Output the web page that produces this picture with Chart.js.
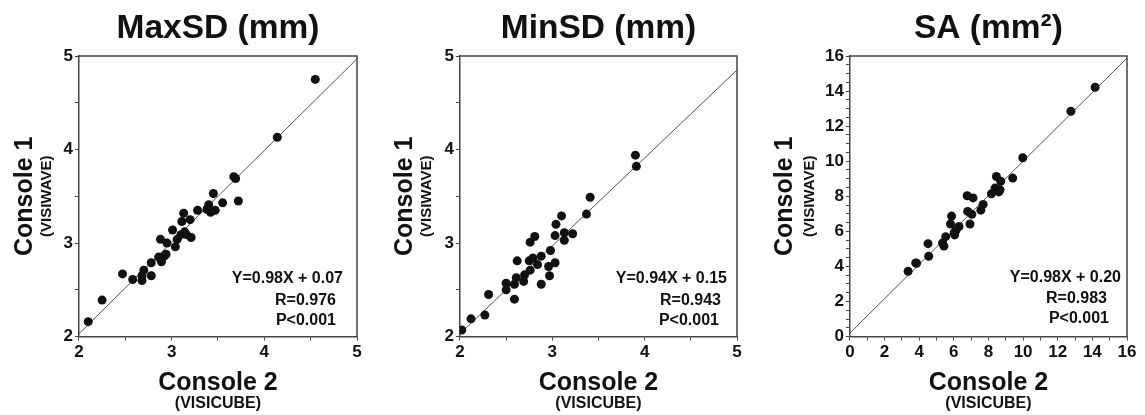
<!DOCTYPE html>
<html>
<head>
<meta charset="utf-8">
<script src="https://cdn.jsdelivr.net/npm/chart.js@4.4.1/dist/chart.umd.min.js"></script>
<style>
    body { margin: 0; background: #fff; }
    .row { display: flex; width: 1145px; height: 415px; }
    canvas { display: block; }
</style>
</head>
<body>
<div class="row">
    <canvas id="maxsd" width="380" height="415"></canvas>
    <canvas id="minsd" width="380" height="415"></canvas>
    <canvas id="sa" width="385" height="415"></canvas>
</div>
<script>
// values (Console 2 = x, Console 1 = y)
const maxsdConsole2 = [2.10, 2.25, 2.47, 2.58, 2.68, 2.68, 2.70, 2.78, 2.78, 2.86, 2.89, 2.88, 2.92, 2.94, 2.95, 3.01, 3.04, 3.06, 3.10, 3.13, 3.11, 3.14, 3.16, 3.20, 3.21, 3.28, 3.38, 3.40, 3.42, 3.45, 3.47, 3.55, 3.67, 3.69, 3.72, 4.14, 4.55];
const maxsdConsole1 = [2.16, 2.39, 2.67, 2.61, 2.60, 2.65, 2.71, 2.65, 2.79, 2.85, 2.80, 3.04, 2.86, 2.88, 3.00, 3.14, 2.96, 3.04, 3.09, 3.32, 3.23, 3.12, 3.09, 3.25, 3.06, 3.35, 3.36, 3.41, 3.33, 3.53, 3.35, 3.43, 3.71, 3.69, 3.45, 4.13, 4.75];

const minsdConsole2 = [2.02, 2.12, 2.27, 2.31, 2.50, 2.50, 2.59, 2.59, 2.61, 2.62, 2.69, 2.70, 2.75, 2.76, 2.76, 2.79, 2.81, 2.84, 2.88, 2.88, 2.96, 2.98, 2.97, 3.03, 3.03, 3.04, 3.10, 3.13, 3.13, 3.22, 3.37, 3.41, 3.90, 3.91];
const minsdConsole1 = [2.07, 2.19, 2.23, 2.45, 2.57, 2.50, 2.40, 2.56, 2.63, 2.81, 2.59, 2.66, 2.81, 2.71, 3.01, 2.84, 3.07, 2.77, 2.86, 2.56, 2.75, 2.92, 2.65, 2.79, 3.08, 3.20, 3.29, 3.11, 3.03, 3.10, 3.31, 3.49, 3.94, 3.82];

const saConsole2 = [3.36, 3.80, 3.85, 4.51, 4.55, 5.35, 5.43, 5.53, 5.81, 5.87, 6.02, 6.12, 6.30, 6.05, 6.77, 6.80, 6.93, 7.04, 7.11, 7.56, 7.69, 8.17, 8.38, 8.46, 8.67, 8.71, 8.60, 9.40, 9.98, 12.76, 14.16];
const saConsole1 = [3.72, 4.20, 4.18, 5.30, 4.58, 5.34, 5.16, 5.70, 6.42, 6.87, 5.92, 6.05, 6.28, 5.80, 8.03, 7.14, 6.42, 6.97, 7.91, 7.21, 7.53, 8.14, 8.47, 9.13, 8.37, 8.86, 8.25, 9.04, 10.20, 12.85, 14.22];

const panelTitles = ['MaxSD (mm)', 'MinSD (mm)', 'SA (mm\u00B2)'];
const fitSlopes = [0.98, 0.94, 0.98];
const fitIntercepts = [0.07, 0.15, 0.20];
const fitR = ['0.976', '0.943', '0.983'];
const fitP = ['P<0.001', 'P<0.001', 'P<0.001'];

const FONT = 'Arial, "Liberation Sans", sans-serif';
const INK = '#111';
const AXIS = '#444';

function toPoints(xs, ys) {
    return xs.map((x, i) => ({ x: x, y: ys[i] }));
}

const extrasPlugin = {
    id: 'extras',
    afterDraw(chart, args, opts) {
        const ctx = chart.ctx;
        const a = chart.chartArea;
        ctx.save();

        // top and right edges of the frame
        ctx.strokeStyle = AXIS;
        ctx.lineWidth = 1.5;
        ctx.beginPath();
        ctx.moveTo(a.left, a.top);
        ctx.lineTo(a.right, a.top);
        ctx.lineTo(a.right, a.bottom);
        ctx.stroke();

        // regression text
        ctx.fillStyle = INK;
        ctx.font = 'bold 16px ' + FONT;
        ctx.textAlign = 'right';
        ctx.textBaseline = 'middle';
        ctx.fillText(opts.eq, a.right - opts.right[0], a.bottom - opts.rows[0]);
        ctx.fillText('R=' + opts.r, a.right - opts.right[1], a.bottom - opts.rows[1]);
        ctx.fillText(opts.p, a.right - opts.right[2], a.bottom - opts.rows[2]);

        // small sub-labels under the axis titles
        ctx.textAlign = 'center';
        ctx.font = 'bold 16px ' + FONT;
        ctx.fillText('(VISICUBE)', (a.left + a.right) / 2, 404);

        ctx.translate(opts.subYX, (a.top + a.bottom) / 2);
        ctx.rotate(-Math.PI / 2);
        ctx.font = 'bold 15px ' + FONT;
        ctx.fillText('(VISIWAVE)', 0, 0);
        ctx.restore();
    }
};

function makePanel(id, idx, xs, ys, cfg) {
    const slope = fitSlopes[idx];
    const icpt = fitIntercepts[idx];
    const eq = 'Y=' + slope.toFixed(2) + 'X + ' + icpt.toFixed(2);

    const tickFont = { family: FONT, size: 17, weight: 'bold' };
    const titleFont = { family: FONT, size: 25, weight: 'bold' };

    return new Chart(document.getElementById(id), {
        type: 'scatter',
        data: {
            datasets: [
                {
                    data: toPoints(xs, ys),
                    backgroundColor: INK,
                    borderWidth: 0,
                    pointRadius: 4.5,
                    order: 0
                },
                {
                    data: [
                        { x: cfg.min, y: slope * cfg.min + icpt },
                        { x: cfg.max, y: slope * cfg.max + icpt }
                    ],
                    showLine: true,
                    borderColor: '#555',
                    borderWidth: 1,
                    pointRadius: 0,
                    order: 1
                }
            ]
        },
        options: {
            responsive: false,
            animation: false,
            layout: { padding: { left: 0, right: cfg.padRight, top: 0, bottom: 17 } },
            plugins: {
                legend: { display: false },
                tooltip: { enabled: false },
                title: {
                    display: true,
                    text: panelTitles[idx],
                    fullSize: false,
                    color: INK,
                    font: { family: FONT, size: 33.5, weight: 'bold' },
                    padding: { top: 9, bottom: 6.8 }
                },
                extras: {
                    eq: eq,
                    r: fitR[idx],
                    p: fitP[idx],
                    right: cfg.statRight,
                    rows: cfg.statRows,
                    subYX: cfg.subYX
                }
            },
            scales: {
                x: {
                    type: 'linear',
                    min: cfg.min,
                    max: cfg.max,
                    ticks: {
                        stepSize: cfg.xStep,
                        autoSkip: false,
                        maxRotation: 0,
                        padding: 2,
                        color: INK,
                        font: tickFont,
                        callback: v => (Math.abs(v % cfg.major) < 1e-9 ? v : '')
                    },
                    grid: { drawOnChartArea: false, drawTicks: true, tickLength: 4, tickColor: AXIS, tickWidth: 1 },
                    border: { display: true, color: AXIS, width: 1.5 },
                    title: {
                        display: true,
                        text: 'Console 2',
                        color: INK,
                        font: titleFont,
                        padding: { top: 3, bottom: 0 }
                    }
                },
                y: {
                    type: 'linear',
                    min: cfg.min,
                    max: cfg.max,
                    ticks: {
                        stepSize: cfg.yStep,
                        autoSkip: false,
                        padding: 2,
                        color: INK,
                        font: tickFont,
                        callback: v => (Math.abs(v % cfg.major) < 1e-9 ? v : '')
                    },
                    grid: { drawOnChartArea: false, drawTicks: true, tickLength: 4, tickColor: AXIS, tickWidth: 1 },
                    border: { display: true, color: AXIS, width: 1.5 },
                    title: {
                        display: true,
                        text: 'Console 1',
                        color: INK,
                        font: titleFont,
                        padding: { top: 10, bottom: cfg.yTitleGap }
                    }
                }
            }
        },
        plugins: [extrasPlugin]
    });
}

makePanel('maxsd', 0, maxsdConsole2, maxsdConsole1, {
    min: 2, max: 5, xStep: 0.5, yStep: 0.5, major: 1,
    padRight: 23, yTitleGap: 21.5, subYX: 47,
    statRight: [14, 21, 21], statRows: [58, 36, 16]
});

makePanel('minsd', 1, minsdConsole2, minsdConsole1, {
    min: 2, max: 5, xStep: 0.5, yStep: 0.5, major: 1,
    padRight: 23, yTitleGap: 22.5, subYX: 47,
    statRight: [10, 16, 18], statRows: [58, 36, 16]
});

makePanel('sa', 2, saConsole2, saConsole1, {
    min: 0, max: 16, xStep: 1, yStep: 0.5, major: 2,
    padRight: 18, yTitleGap: 23, subYX: 50,
    statRight: [6, 20, 18], statRows: [59, 38, 18]
});
</script>
</body>
</html>
